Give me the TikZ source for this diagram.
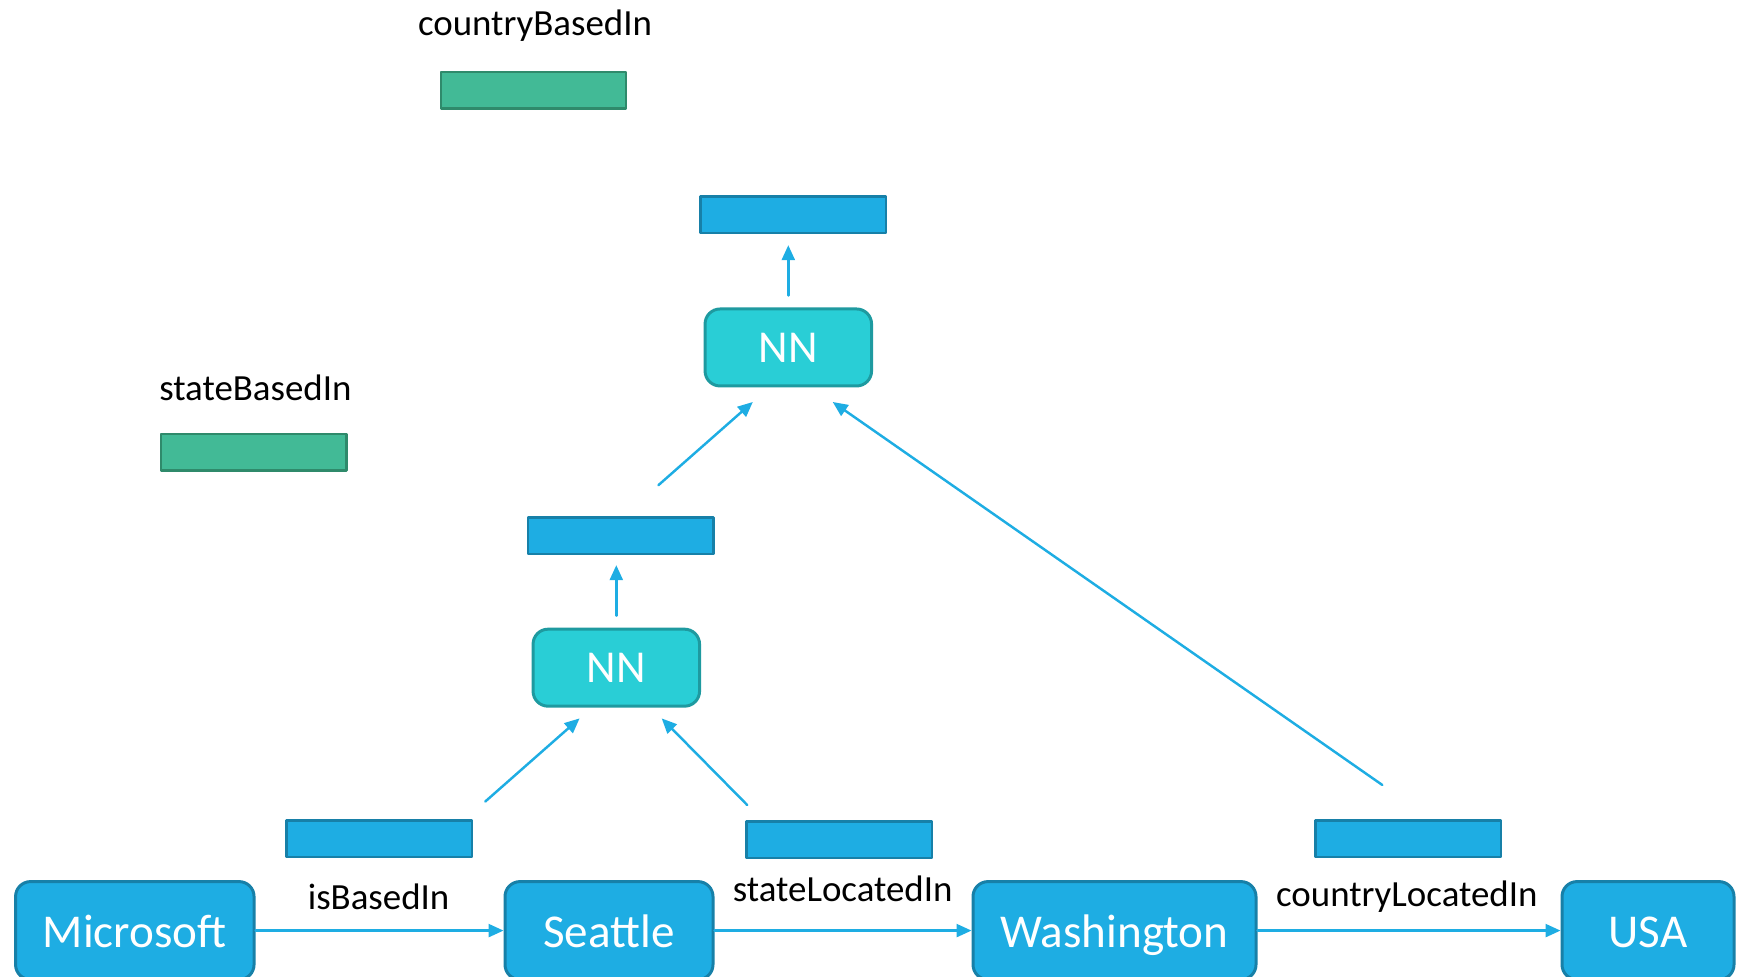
\documentclass[tikz,border=0pt]{standalone}
\usepackage{fontspec}
\setmainfont{Carlito}
\usepackage{tikz}
\usetikzlibrary{arrows.meta}
\definecolor{entblue}{HTML}{1EADE3}
\definecolor{entedge}{HTML}{1780A8}
\definecolor{nnfill}{HTML}{29CED6}
\definecolor{nnedge}{HTML}{1E9AA0}
\definecolor{relgreen}{HTML}{42BA96}
\definecolor{reledge}{HTML}{2F8A6B}
\tikzset{
  every picture/.style={line join=round, line cap=round, >=Triangle},
  entity/.style={draw=entedge, fill=entblue, line width=0.85pt, rounded corners=0.15cm,
    minimum height=0.98cm, text=white, font=\fontsize{13.4}{16}\selectfont, inner sep=0pt,
    text height=0.34cm, text depth=0pt},
  nnbox/.style={draw=nnedge, fill=nnfill, line width=0.85pt, rounded corners=0.15cm,
    minimum width=1.665cm, minimum height=0.77cm, text=white, font=\fontsize{13}{16}\selectfont},
  vecbox/.style={draw=entedge, fill=entblue, line width=0.7pt, minimum width=1.855cm, minimum height=0.365cm, inner sep=0pt},
  relbox/.style={draw=reledge, fill=relgreen, line width=0.7pt, minimum width=1.855cm, minimum height=0.365cm, inner sep=0pt},
  lbl/.style={font=\fontsize{10.5}{13}\selectfont, inner sep=0pt},
  arr/.style={-{Triangle[length=0.15cm,width=0.13cm]}, entblue, line width=0.7pt},
}

\begin{document}
\begin{tikzpicture}
\clip (0,0) rectangle (17.41,9.77);
% entities along the bottom
\node[entity,minimum width=2.385cm] (ms) at (1.348,0.464) {Microsoft};
\node[entity,minimum width=2.080cm] (sea) at (6.090,0.464) {Seattle};
\node[entity,minimum width=2.830cm] (wa) at (11.145,0.464) {Washington};
\node[entity,minimum width=1.720cm] (usa) at (16.480,0.464) {USA};
\draw[arr] (ms) -- (sea);
\draw[arr] (sea) -- (wa);
\draw[arr] (wa) -- (usa);
\node[lbl] (lisb) at (3.786,0.800) {isBasedIn};
\node[lbl] (lsli) at (8.427,0.880) {stateLocatedIn};
\node[lbl] (lcli) at (14.068,0.800) {countryLocatedIn};
% relation vectors
\node[vecbox] (v1) at (3.792,1.383) {};
\node[vecbox] (v2) at (8.393,1.372) {};
\node[vecbox] (v3) at (14.084,1.383) {};
\node[vecbox] (v4) at (6.207,4.413) {};
\node[vecbox] (v5) at (7.933,7.623) {};
% composed relations
\node[relbox] (g1) at (5.335,8.865) {};
\node[relbox] (g2) at (2.537,5.246) {};
\node[lbl] (lcbi) at (5.350,9.515) {countryBasedIn};
\node[lbl] (lsbi) at (2.554,5.895) {stateBasedIn};
% networks
\node[nnbox] (nn1) at (6.163,3.093) {NN};
\node[nnbox] (nn2) at (7.883,6.295) {NN};
\coordinate (v1out) at (4.852,1.754);
\coordinate (v2out) at (7.472,1.720);
\coordinate (nn1inl) at (5.796,2.586);
\coordinate (nn1inr) at (6.617,2.586);
\coordinate (v4out) at (6.584,4.918);
\coordinate (v3out) at (13.823,1.920);
\coordinate (nn2inl) at (7.528,5.750);
\coordinate (nn2inr) at (8.327,5.750);
\draw[arr] (v1out) -- (nn1inl);
\draw[arr] (v2out) -- (nn1inr);
\draw[arr,shorten <=0.12cm,shorten >=0.1cm] (nn1.north) -- (nn1.north |- v4.south);
\draw[arr] (v4out) -- (nn2inl);
\draw[arr] (v3out) -- (nn2inr);
\draw[arr,shorten <=0.12cm,shorten >=0.11cm] (nn2.north) -- (nn2.north |- v5.south);
\end{tikzpicture}
\end{document}
